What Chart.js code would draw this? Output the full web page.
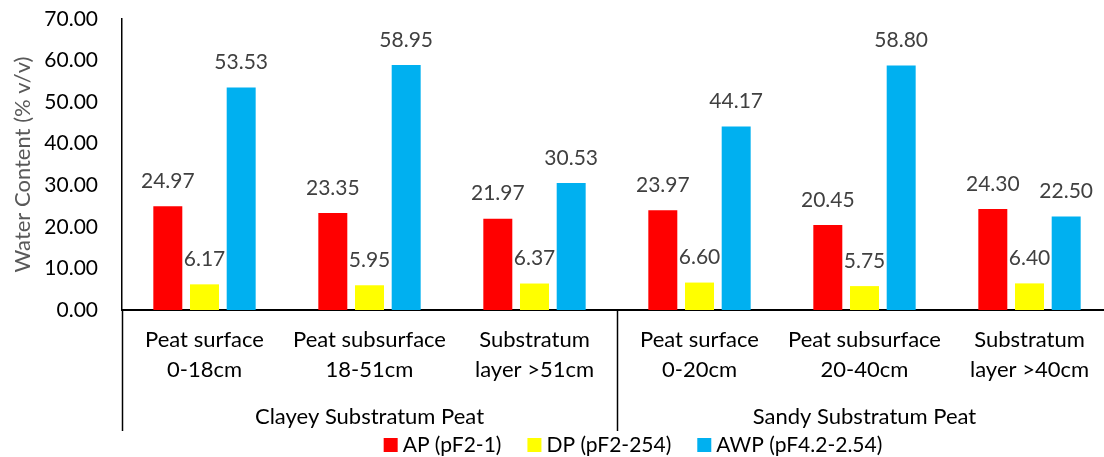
<!DOCTYPE html>
<html>
<head>
<meta charset="utf-8">
<script src="https://cdn.jsdelivr.net/npm/chart.js@4.4.1/dist/chart.umd.min.js"></script>
<style>
  html, body { margin: 0; padding: 0; background: #fff; overflow: hidden; }
  #wrap { width: 1112px; height: 457px; }
</style>
</head>
<body>
<div id="wrap"><canvas id="waterChart" width="1112" height="457"></canvas></div>
<script>
// ==== Data ====
const categories = [
  ['Peat surface', '0-18cm'],
  ['Peat subsurface', '18-51cm'],
  ['Substratum', 'layer >51cm'],
  ['Peat surface', '0-20cm'],
  ['Peat subsurface', '20-40cm'],
  ['Substratum', 'layer >40cm']
];
const groups = ['Clayey Substratum Peat', 'Sandy Substratum Peat'];
const seriesNames = ['AP (pF2-1)', 'DP (pF2-254)', 'AWP (pF4.2-2.54)'];
const apValues = [24.97, 23.35, 21.97, 23.97, 20.45, 24.30];
const dpValues = [6.17, 5.95, 6.37, 6.60, 5.75, 6.40];
const awpValues = [53.53, 58.95, 30.53, 44.17, 58.80, 22.50];
const yTicks = [0, 10, 20, 30, 40, 50, 60, 70];

const colors = ['#FF0000', '#FFFF00', '#00B0F0'];
const FONT = 'Lato, Carlito, Calibri, sans-serif';

// valeurs au-dessus des barres
const barLabels = {
  id: 'barLabels',
  afterDatasetsDraw(chart) {
    const ctx = chart.ctx;
    ctx.save();
    ctx.font = '21px ' + FONT;
    ctx.fillStyle = '#404040';
    ctx.textAlign = 'center';
    ctx.textBaseline = 'middle';
    chart.data.datasets.forEach((ds, i) => {
      chart.getDatasetMeta(i).data.forEach((bar, j) => {
        ctx.fillText(ds.data[j].toFixed(2), bar.x, bar.y - 25);
      });
    });
    ctx.restore();
  }
};

// lignes de séparation des groupes sous l'axe
const groupLines = {
  id: 'groupLines',
  afterDraw(chart) {
    const x = chart.scales.x;
    const ctx = chart.ctx;
    ctx.save();
    ctx.strokeStyle = '#000';
    ctx.lineWidth = 1.5;
    [0, 3, 6].forEach(i => {
      const px = Math.round(x.getPixelForValue(i - 0.5)) + 0.5;
      ctx.beginPath();
      ctx.moveTo(px, chart.chartArea.bottom);
      ctx.lineTo(px, 431);
      ctx.stroke();
    });
    ctx.restore();
  }
};

// légende dessinée à la main (espacements comme l'original)
const bottomLegend = {
  id: 'bottomLegend',
  afterDraw(chart) {
    const ctx = chart.ctx;
    ctx.save();
    ctx.font = '21px ' + FONT;
    ctx.textBaseline = 'middle';
    const box = 14, gapBox = 5, gapItem = 26, yMid = 445;
    const items = chart.data.datasets.map(ds => ({ text: ds.label, color: ds.backgroundColor }));
    let total = 0;
    items.forEach((it, i) => {
      it.w = ctx.measureText(it.text).width;
      total += box + gapBox + it.w + (i < items.length - 1 ? gapItem : 0);
    });
    let cx = 633 - total / 2;
    items.forEach(it => {
      ctx.fillStyle = it.color;
      ctx.fillRect(cx, yMid - box / 2, box, box);
      ctx.fillStyle = '#000';
      ctx.textAlign = 'left';
      ctx.fillText(it.text, cx + box + gapBox, yMid);
      cx += box + gapBox + it.w + gapItem;
    });
    ctx.restore();
  }
};

new Chart(document.getElementById('waterChart').getContext('2d'), {
  type: 'bar',
  data: {
    labels: categories,
    datasets: [
      { label: seriesNames[0], data: apValues, backgroundColor: colors[0] },
      { label: seriesNames[1], data: dpValues, backgroundColor: colors[1] },
      { label: seriesNames[2], data: awpValues, backgroundColor: colors[2] }
    ]
  },
  options: {
    responsive: false,
    animation: false,
    layout: { padding: { top: 19, bottom: 25, left: 0, right: 0 } },
    datasets: { bar: { categoryPercentage: 0.667, barPercentage: 0.79 } },
    plugins: {
      legend: { display: false },
      tooltip: { enabled: false }
    },
    scales: {
      x: {
        weight: 0,
        afterFit(axis) { axis.height = 75; axis.paddingLeft = 0; axis.paddingRight = 0; },
        grid: { display: true, drawOnChartArea: false, drawTicks: false },
        border: { display: true, color: '#000', width: 2 },
        ticks: {
          color: '#000',
          padding: 15,
          maxRotation: 0,
          autoSkip: false,
          font: { family: FONT, size: 22, lineHeight: 1.364 }
        }
      },
      x2: {
        type: 'category',
        position: 'bottom',
        weight: 1,
        labels: groups,
        offset: true,
        afterFit(axis) { axis.height = 47; axis.paddingLeft = 0; axis.paddingRight = 0; },
        grid: { display: false, drawTicks: false },
        border: { display: false },
        ticks: {
          color: '#000',
          padding: 17,
          maxRotation: 0,
          font: { family: FONT, size: 22, lineHeight: 1.364 }
        }
      },
      y: {
        min: 0,
        max: 70,
        afterBuildTicks(axis) { axis.ticks = yTicks.map(v => ({ value: v })); },
        afterFit(axis) { axis.width = 122; axis.paddingTop = 0; axis.paddingBottom = 0; },
        grid: { display: false, drawTicks: false },
        border: { display: true, color: '#000', width: 1.5 },
        ticks: {
          color: '#000',
          padding: 24,
          font: { family: FONT, size: 21 },
          callback: v => Number(v).toFixed(2)
        },
        title: {
          display: true,
          text: 'Water Content (% v/v)',
          color: '#595959',
          padding: { top: 10, bottom: 10 },
          font: { family: FONT, size: 22, lineHeight: 1.2 }
        }
      }
    }
  },
  plugins: [barLabels, groupLines, bottomLegend]
});
</script>
</body>
</html>
